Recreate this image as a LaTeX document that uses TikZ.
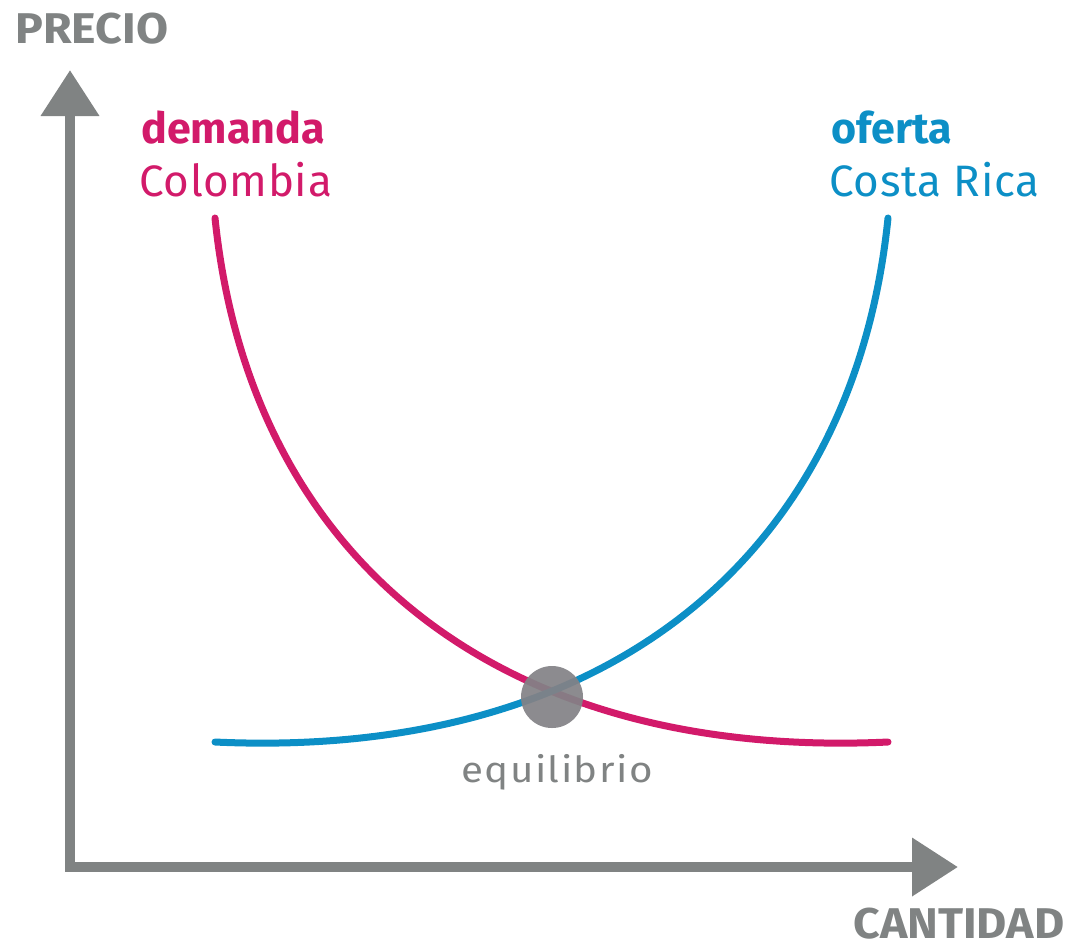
\documentclass[tikz,border=0pt]{standalone}
\usepackage{fontspec}
\setmainfont{Fira Sans}
\usetikzlibrary{arrows.meta,positioning}

\definecolor{demcol}{HTML}{D21A6A}
\definecolor{ofecol}{HTML}{0C8FC6}
\definecolor{axiscol}{HTML}{808383}
\definecolor{dotcol}{HTML}{838286}

\begin{document}
\begin{tikzpicture}[x=0.5pt,y=-0.5pt,
  axis/.style={draw=axiscol,line width=5.2pt,{Triangle[length=23pt,width=28pt]}-{Triangle[length=23pt,width=28pt]}},
  curve/.style={line width=3.5pt,line cap=round},
  axislabel/.style={text=axiscol,font=\fontsize{21.5}{25}\selectfont\bfseries\addfontfeatures{FakeStretch=1.08},inner sep=0pt,anchor=base west},
  title/.style={font=\fontsize{21.5}{25}\selectfont\bfseries,inner sep=0pt,anchor=base west},
  country/.style={font=\fontsize{22}{26}\selectfont\addfontfeatures{LetterSpace=1.5},inner sep=0pt,anchor=base west},
  dot/.style={circle,fill=dotcol,fill opacity=0.93,minimum size=31pt,inner sep=0pt}]

  \useasboundingbox (0,0) rectangle (1074,944);

  % axes
  \coordinate (ytip) at (70,70);
  \coordinate (orig) at (70,867);
  \coordinate (xtip) at (958,867);
  \draw[axis] (ytip) -- (orig) -- (xtip);

  \node[axislabel] (precio) at (15,43) {PRECIO};
  \node[axislabel] (cantidad) at (853,938) {CANTIDAD};

  % curves
  \coordinate (d1) at (215,218);
  \coordinate (d2) at (888,742);
  \coordinate (s1) at (215,742);
  \coordinate (s2) at (888,218);
  \draw[curve,demcol] (d1) .. controls (250,560) and (500,760) .. (d2);
  \draw[curve,ofecol] (s1) .. controls (603,760) and (853,560) .. (s2);

  \node[title,text=demcol] (dem) at (141,143) {demanda};
  \node[country,text=demcol] (col) at (139,196) {Colombia};
  \node[title,text=ofecol] (ofe) at (831,143) {oferta};
  \node[country,text=ofecol] (cr) at (829,196) {Costa Rica};

  % equilibrio
  \node[dot] (eq) at (552,697) {};
  \node[font=\fontsize{18}{21}\selectfont\addfontfeatures{FakeStretch=1.12,LetterSpace=4},text=axiscol,inner sep=0pt,below=13pt of eq,xshift=2.5pt] (eqlabel) {equilibrio};
\end{tikzpicture}
\end{document}
